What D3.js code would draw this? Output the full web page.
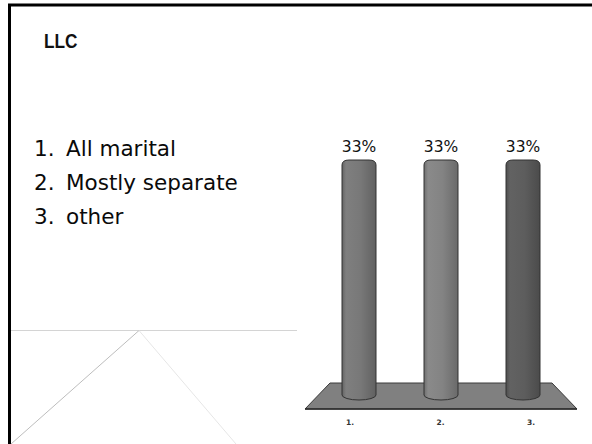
<!DOCTYPE html>
<html>
<head>
<meta charset="utf-8">
<script src="https://cdn.jsdelivr.net/npm/d3@7"></script>
<style>
  html, body { margin: 0; padding: 0; background: #fff; }
  svg { display: block; }
</style>
</head>
<body>
<svg width="592" height="444"></svg>
<script>
// chart data
var categories = ["1.", "2.", "3."];
var values = [33, 33, 33];
var valueLabels = ["33%", "33%", "33%"];
var listNumbers = ["1.", "2.", "3."];
var listItems = ["All marital", "Mostly separate", "other"];
var title = "LLC";

var barColors = ["#787878", "#838383", "#5d5d5d"];

var svg = d3.select("svg");

// slide frame
svg.append("line").attr("x1", 8).attr("x2", 592).attr("y1", 5).attr("y2", 5)
    .attr("stroke", "#000").attr("stroke-width", 3);
svg.append("line").attr("x1", 9.5).attr("x2", 9.5).attr("y1", 4).attr("y2", 444)
    .attr("stroke", "#000").attr("stroke-width", 3);

// faint decoration lines
svg.append("line").attr("x1", 11).attr("x2", 297).attr("y1", 330.5).attr("y2", 330.5)
    .attr("stroke", "#d4d4d4").attr("stroke-width", 1);
svg.append("line").attr("x1", 11).attr("x2", 139).attr("y1", 444).attr("y2", 330.5)
    .attr("stroke", "#bdbdbd").attr("stroke-width", 1);
svg.append("line").attr("x1", 139).attr("x2", 236).attr("y1", 330.5).attr("y2", 444)
    .attr("stroke", "#e6e6e6").attr("stroke-width", 1);

// title (narrowed a bit to match the condensed face)
svg.append("text")
    .attr("transform", "translate(44,47.5) scale(0.84,1)")
    .attr("font-family", "Liberation Sans, Arial, sans-serif")
    .attr("font-weight", "bold").attr("font-size", 20.5)
    .attr("fill", "#111").text(title);

// numbered list
var list = svg.append("g")
    .attr("font-family", "DejaVu Sans, sans-serif")
    .attr("font-size", 21.5).attr("fill", "#0a0a0a");
listItems.forEach(function (d, i) {
    var yy = 156 + i * 34;
    list.append("text").attr("x", 34).attr("y", yy).text(listNumbers[i]);
    list.append("text").attr("x", 66).attr("y", yy).text(d);
});

// scales
var x = d3.scalePoint().domain(categories).range([359, 523]);
var xFront = d3.scalePoint().domain(categories).range([350, 531]);
var y = d3.scaleLinear().domain([0, d3.max(values)]).range([395, 160]);
var barW = 34;

// gradients for the cylinders
var defs = svg.append("defs");
categories.forEach(function (c, i) {
    var base = d3.color(barColors[i]);
    var g = defs.append("linearGradient").attr("id", "cyl" + i)
        .attr("x1", "0%").attr("x2", "100%").attr("y1", "0%").attr("y2", "0%");
    g.append("stop").attr("offset", "0%").attr("stop-color", base.darker(0.5));
    g.append("stop").attr("offset", "12%").attr("stop-color", base.brighter(0.15));
    g.append("stop").attr("offset", "55%").attr("stop-color", base);
    g.append("stop").attr("offset", "100%").attr("stop-color", base.darker(0.6));
});

// floor
var floor = [[330, 383], [552, 383], [577, 409], [305, 409]];
svg.append("polygon")
    .attr("points", floor.map(function (p) { return p.join(","); }).join(" "))
    .attr("fill", "#808080").attr("stroke", "#3a3a3a").attr("stroke-width", 1);
svg.append("line").attr("x1", 305).attr("x2", 577).attr("y1", 409).attr("y2", 409)
    .attr("stroke", "#2a2a2a").attr("stroke-width", 1.5);

// cylinders
function cylPath(d, i) {
    var cx = x(categories[i]);
    var x0 = cx - barW / 2, x1 = cx + barW / 2;
    var top = y(d), base = y(0);
    return "M" + x0 + "," + (top + 5) +
        "Q" + x0 + "," + top + " " + (x0 + 7) + "," + top +
        "L" + (x1 - 7) + "," + top +
        "Q" + x1 + "," + top + " " + x1 + "," + (top + 5) +
        "L" + x1 + "," + base +
        "A" + (barW / 2) + ",5 0 0 1 " + x0 + "," + base + "Z";
}

svg.selectAll(".bar")
    .data(values)
    .enter().append("path")
    .attr("class", "bar")
    .attr("d", cylPath)
    .attr("fill", function (d, i) { return "url(#cyl" + i + ")"; })
    .attr("stroke", "#333").attr("stroke-width", 1);

// value labels
svg.selectAll(".val")
    .data(values)
    .enter().append("text")
    .attr("class", "val")
    .attr("x", function (d, i) { return x(categories[i]); })
    .attr("y", function (d) { return y(d) - 8; })
    .attr("text-anchor", "middle")
    .attr("font-family", "DejaVu Sans, sans-serif")
    .attr("font-size", 15.5).attr("fill", "#111")
    .text(function (d, i) { return valueLabels[i]; });

// category labels
svg.selectAll(".cat")
    .data(categories)
    .enter().append("text")
    .attr("class", "cat")
    .attr("x", function (d) { return xFront(d); })
    .attr("y", 424.5)
    .attr("text-anchor", "middle")
    .attr("font-family", "DejaVu Sans, sans-serif")
    .attr("font-weight", "bold")
    .attr("font-size", 7.5).attr("fill", "#333")
    .text(function (d) { return d; });
</script>
</body>
</html>
